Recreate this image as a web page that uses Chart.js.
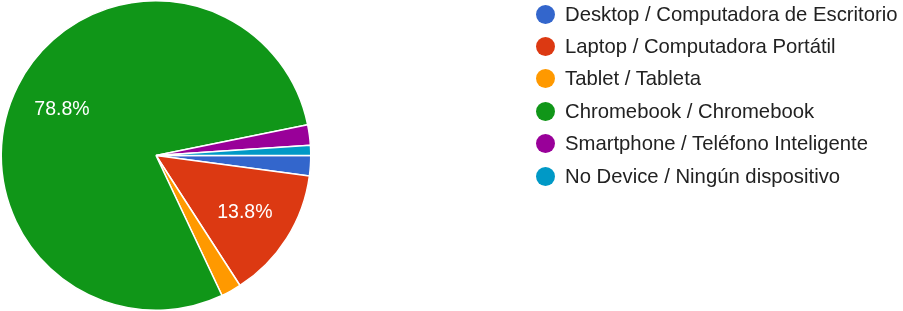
<!DOCTYPE html>
<html>
<head>
<meta charset="utf-8">
<script src="https://cdn.jsdelivr.net/npm/chart.js@4"></script>
<style>
  html, body { margin: 0; padding: 0; background: #fff; }
  #wrap { position: relative; width: 903px; height: 311px; overflow: hidden; }
  #c { position: absolute; left: 0; top: 0; }
  #legend { position: absolute; left: 0; top: 0; font-family: "Liberation Sans", Arial, sans-serif; font-size: 20.3px; color: #222; }
  .item { position: absolute; left: 536px; height: 32px; display: flex; align-items: center; white-space: nowrap; }
  .dot { width: 19px; height: 19px; border-radius: 50%; margin-right: 10px; flex: none; }
</style>
</head>
<body>
<div id="wrap">
  <canvas id="c" width="903" height="311"></canvas>
  <div id="legend"></div>
</div>
<script>
const categories = [
  "Desktop / Computadora de Escritorio",
  "Laptop / Computadora Portátil",
  "Tablet / Tableta",
  "Chromebook / Chromebook",
  "Smartphone / Teléfono Inteligente",
  "No Device / Ningún dispositivo"
];
const responses = [4, 26, 4, 149, 4, 2];
const sliceColors = ["#3366cc", "#dc3912", "#ff9900", "#109618", "#990099", "#0099c6"];

const pctLabels = {
  id: 'pctLabels',
  afterDatasetsDraw(chart) {
    const ctx = chart.ctx;
    const meta = chart.getDatasetMeta(0);
    const data = chart.data.datasets[0].data;
    const total = data.reduce((a, b) => a + b, 0);
    ctx.save();
    ctx.fillStyle = '#ffffff';
    ctx.font = '19.5px "Liberation Sans", Arial, sans-serif';
    ctx.textAlign = 'center';
    ctx.textBaseline = 'middle';
    meta.data.forEach((arc, i) => {
      const pct = data[i] / total * 100;
      if (pct < 5) return;
      const p = arc.getProps(['x', 'y', 'startAngle', 'endAngle', 'outerRadius'], true);
      const mid = (p.startAngle + p.endAngle) / 2;
      const r = p.outerRadius * 0.68;
      ctx.fillText(pct.toFixed(1) + '%', p.x + Math.cos(mid) * r, p.y + Math.sin(mid) * r + 1);
    });
    ctx.restore();
  }
};

const chart = new Chart(document.getElementById('c'), {
  type: 'pie',
  data: {
    labels: categories,
    datasets: [{
      data: responses,
      backgroundColor: sliceColors,
      borderColor: '#ffffff',
      borderWidth: 1.5,
      hoverOffset: 0
    }]
  },
  options: {
    responsive: false,
    animation: false,
    rotation: 90,
    layout: { padding: { left: 0, right: 591, top: 0, bottom: 0 } },
    plugins: {
      legend: { display: false },
      tooltip: { enabled: false }
    }
  },
  plugins: [pctLabels]
});

const legendEl = document.getElementById('legend');
chart.data.labels.forEach((lab, i) => {
  const item = document.createElement('div');
  item.className = 'item';
  item.style.top = (14 + i * 32.4 - 16) + 'px';
  const dot = document.createElement('span');
  dot.className = 'dot';
  dot.style.background = chart.data.datasets[0].backgroundColor[i];
  const txt = document.createElement('span');
  txt.textContent = lab;
  item.appendChild(dot);
  item.appendChild(txt);
  legendEl.appendChild(item);
});
</script>
</body>
</html>
